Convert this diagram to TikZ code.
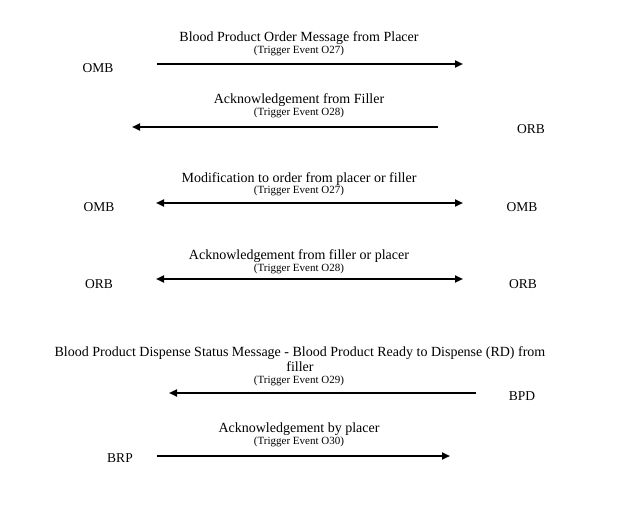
\documentclass[tikz,border=0pt]{standalone}
\usepackage{fontspec}
\setmainfont{Liberation Serif}
\usetikzlibrary{arrows.meta}
\begin{document}
\begin{tikzpicture}[x=1pt,y=-1pt,
  title/.style={font=\fontsize{14}{15}\selectfont,inner sep=0pt,align=center},
  sub/.style={font=\fontsize{11}{12}\selectfont,inner sep=0pt},
  party/.style={font=\fontsize{13.5}{15}\selectfont,inner sep=0pt},
  msg/.style={line width=2pt,-{Triangle[length=8pt,width=7pt]}},
  bmsg/.style={line width=2pt,{Triangle[length=8pt,width=7pt]}-{Triangle[length=8pt,width=7pt]}}]
\useasboundingbox (0,0) rectangle (625,511);
% row 1
\node[title] (t1) at (299,38) {Blood Product Order Message from Placer};
\node[sub] (s1) at (299,51) {(Trigger Event O27)};
\node[party] (p1) at (98,68) {OMB};
\coordinate (a1s) at (157,64); \coordinate (a1e) at (463,64);
\draw[msg] (a1s) -- (a1e);
% row 2
\node[title] (t2) at (299,100) {Acknowledgement from Filler};
\node[sub] (s2) at (299,113) {(Trigger Event O28)};
\node[party] (p2) at (531,129) {ORB};
\coordinate (a2s) at (438,127); \coordinate (a2e) at (132,127);
\draw[msg] (a2s) -- (a2e);
% row 3
\node[title] (t3) at (299,179) {Modification to order from placer or filler};
\node[sub] (s3) at (299,191) {(Trigger Event O27)};
\node[party] (p3a) at (99,207) {OMB};
\node[party] (p3b) at (522,207) {OMB};
\coordinate (a3s) at (156,203); \coordinate (a3e) at (463,203);
\draw[bmsg] (a3s) -- (a3e);
% row 4
\node[title] (t4) at (299,256) {Acknowledgement from filler or placer};
\node[sub] (s4) at (299,269) {(Trigger Event O28)};
\node[party] (p4a) at (99,284) {ORB};
\node[party] (p4b) at (523,284) {ORB};
\coordinate (a4s) at (156,279); \coordinate (a4e) at (463,279);
\draw[bmsg] (a4s) -- (a4e);
% row 5
\node[title] (t5) at (300,359) {Blood Product Dispense Status Message - Blood Product Ready to Dispense (RD) from\\filler};
\node[sub] (s5) at (299,381) {(Trigger Event O29)};
\node[party] (p5) at (522,396) {BPD};
\coordinate (a5s) at (476,393); \coordinate (a5e) at (169,393);
\draw[msg] (a5s) -- (a5e);
% row 6
\node[title] (t6) at (299,429) {Acknowledgement by placer};
\node[sub] (s6) at (299,442) {(Trigger Event O30)};
\node[party] (p6) at (120,458) {BRP};
\coordinate (a6s) at (157,456); \coordinate (a6e) at (450,456);
\draw[msg] (a6s) -- (a6e);
\end{tikzpicture}
\end{document}
